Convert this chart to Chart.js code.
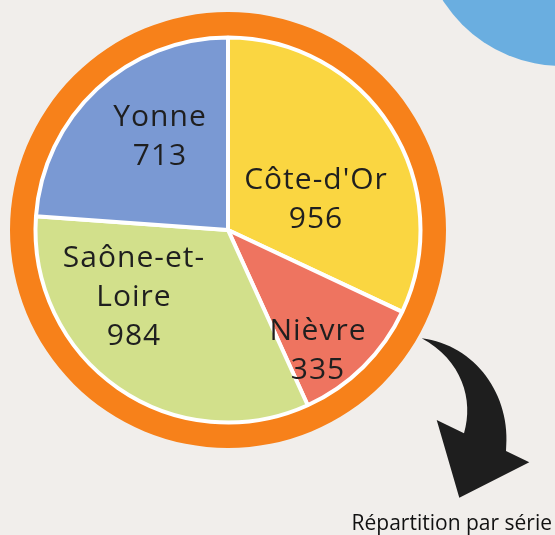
<!DOCTYPE html>
<html><head><meta charset="utf-8">
<script src="https://cdn.jsdelivr.net/npm/chart.js@4/dist/chart.umd.min.js"></script>
<style>html,body{margin:0;padding:0;background:#F1EEEB;overflow:hidden;} canvas{display:block;}</style>
</head><body>
<canvas id="c" width="555" height="535"></canvas>
<script>
// ---- data ----
const categories = ["Côte-d'Or", "Nièvre", "Saône-et-Loire", "Yonne"];
const values = [956, 335, 984, 713];
const sliceColors = ['#FAD641', '#EE7460', '#D2E08B', '#7A99D3'];
const ringValue = [1];
const caption = 'Répartition par série';

// ---- layout (not data) ----
const labelOffsets = [[88, -32], [90, 119], [-94, 65], [-68, -95]];
const BG = '#F1EEEB';

function wrap(ctx, text, maxW) {
  if (ctx.measureText(text).width <= maxW) return [text];
  let best = -1;
  for (let i = 0; i < text.length; i++) {
    if (text[i] === '-' && ctx.measureText(text.slice(0, i + 1)).width <= maxW) best = i;
  }
  if (best < 0) return [text];
  return [text.slice(0, best + 1), text.slice(best + 1)];
}

const decor = {
  id: 'decor',
  beforeDraw(chart) {
    const ctx = chart.ctx;
    ctx.save();
    ctx.fillStyle = BG;
    ctx.fillRect(0, 0, chart.width, chart.height);
    ctx.fillStyle = '#6AAEE0';
    ctx.beginPath();
    ctx.arc(562, -75, 141, 0, Math.PI * 2);
    ctx.fill();
    ctx.restore();
  },
  afterDatasetsDraw(chart) {
    const ctx = chart.ctx;
    const meta = chart.getDatasetMeta(1);
    const cx = meta.data[0].x, cy = meta.data[0].y;
    ctx.save();
    const fs = 30;
    ctx.font = fs + 'px "Open Sans"';
    ctx.letterSpacing = '1px';
    ctx.fillStyle = '#1F1F1F';
    ctx.textAlign = 'center';
    ctx.textBaseline = 'alphabetic';
    categories.forEach((name, i) => {
      const lines = wrap(ctx, name, 160).concat([String(values[i])]);
      const [dx, dy] = labelOffsets[i];
      const lh = 39, cap = 0.72 * fs;
      const first = cy + dy - (lines.length - 1) * lh / 2 + cap / 2;
      lines.forEach((t, k) => ctx.fillText(t, cx + dx, first + k * lh));
    });
    ctx.restore();
  },
  afterDraw(chart) {
    const ctx = chart.ctx;
    ctx.save();
    // curved arrow
    ctx.fillStyle = '#1E1E1E';
    ctx.beginPath();
    ctx.moveTo(421.7, 338.3);
    ctx.bezierCurveTo(475, 345, 512, 395, 506, 451);
    ctx.lineTo(529.3, 462.3);
    ctx.lineTo(459.3, 497.7);
    ctx.lineTo(436.7, 420);
    ctx.lineTo(464, 433.3);
    ctx.bezierCurveTo(474, 400, 462, 360, 421.7, 338.3);
    ctx.closePath();
    ctx.fill();
    // caption
    ctx.font = '21px "Open Sans"';
    ctx.fillStyle = '#111111';
    ctx.textAlign = 'right';
    ctx.textBaseline = 'alphabetic';
    ctx.fillText(caption, 552, 530);
    ctx.restore();
  }
};

new Chart(document.getElementById('c'), {
  type: 'pie',
  data: {
    labels: categories,
    datasets: [
      { data: ringValue, backgroundColor: ['#F7811A'], borderWidth: 0, weight: 25.5, order: 1 },
      { data: values, backgroundColor: sliceColors, borderColor: '#FFFFFF', borderWidth: 4, weight: 192.5, order: 0 }
    ]
  },
  options: {
    responsive: false,
    animation: false,
    events: [],
    radius: 218,
    layout: { padding: { left: 10, top: 12, right: 109, bottom: 87 } },
    plugins: { legend: { display: false }, tooltip: { enabled: false }, title: { display: false } }
  },
  plugins: [decor]
});
</script>
</body></html>
